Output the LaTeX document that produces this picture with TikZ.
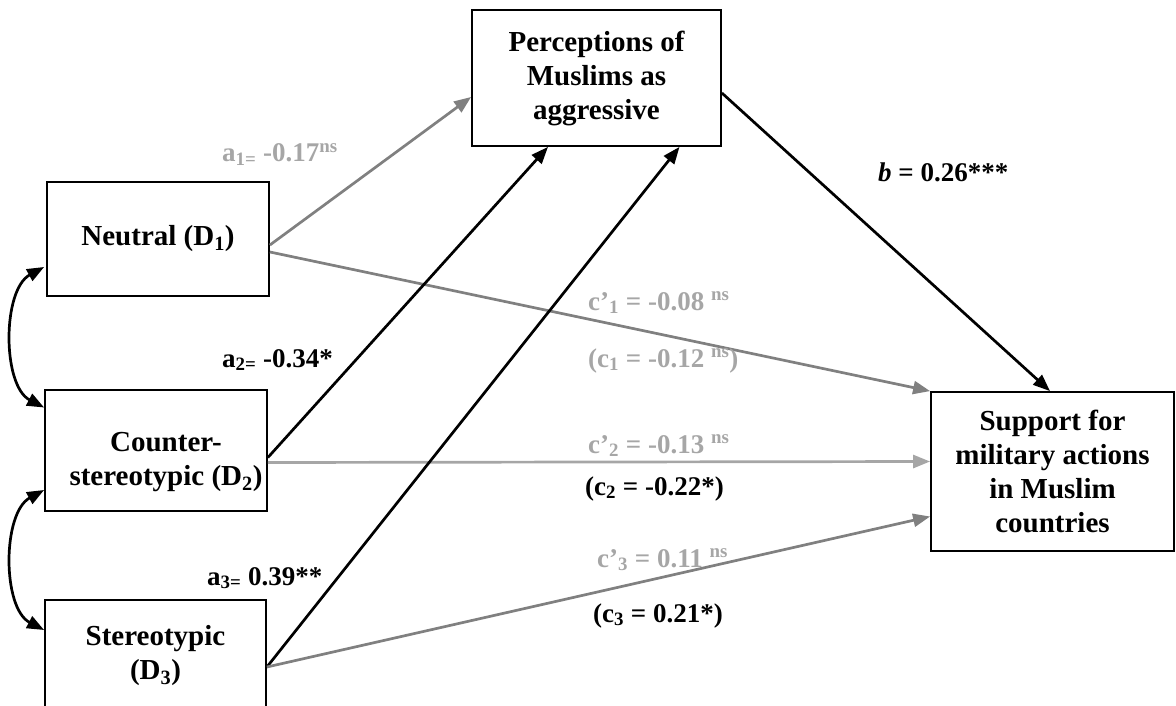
\documentclass[tikz,border=0pt]{standalone}
\usepackage{fontspec}
\setmainfont{Liberation Serif}
\usetikzlibrary{arrows.meta,calc}
\definecolor{lineg}{HTML}{808080}
\definecolor{lineL}{HTML}{A6A6A6}
\definecolor{lblg}{HTML}{A6A6A6}
\begin{document}
\begin{tikzpicture}[x=1pt,y=-1pt,
  box/.style={draw,line width=1.8pt,inner sep=0pt,align=center,font=\bfseries\fontsize{29}{34}\selectfont},
  txt/.style={inner sep=0pt,align=center,font=\bfseries\fontsize{29}{34}\selectfont},
  lbl/.style={anchor=base west,inner sep=0pt,font=\bfseries\fontsize{27}{32}\selectfont},
  arr/.style={line width=2.7pt,-{Triangle[length=17pt,width=13pt]}},
  dbl/.style={line width=2.7pt,{Triangle[length=17pt,width=13pt]}-{Triangle[length=17pt,width=13pt]}}]
\useasboundingbox (0,0) rectangle (1176,706);

\node[box,minimum width=249pt,minimum height=136pt] (pm) at (596.5,78) {Perceptions of\\Muslims as\\aggressive};
\node[box,minimum width=222pt,minimum height=114pt] (ne) at (158,239) {Neutral (D\textsubscript{1})};
\node[box,minimum width=222pt,minimum height=121pt] (cs) at (156,450.5) {};
\node[txt] (cst) at (166,462) {Counter-\\stereotypic (D\textsubscript{2})};
\node[box,minimum width=221pt,minimum height=112pt] (st) at (155.5,656) {Stereotypic\\(D\textsubscript{3})};
\node[box,minimum width=243pt,minimum height=159pt] (su) at (1052.5,471.5) {Support for\\military actions\\in Muslim\\countries};

\draw[arr,lineg] ($(ne.east)+(0,6)$) -- ($(pm.west)+(0,19)$);
\draw[arr,lineg] ($(ne.east)+(0,13)$) -- (su.north west);
\draw[arr,black] ($(cs.east)+(0,7)$) -- ($(pm.south)+(-48.5,0)$);
\draw[arr,lineL] ($(cs.east)+(0,12)$) -- ($(su.west)+(0,-10)$);
\draw[arr,black] ($(st.east)+(0,11)$) -- ($(pm.south)+(83,0)$);
\draw[arr,lineg] ($(st.east)+(0,11)$) -- ($(su.west)+(0,45)$);
\draw[arr,black] ($(pm.east)+(0,15)$) -- ($(su.north)+(-2.5,0)$);

\draw[dbl] ($(ne.west)+(-2,28)$) .. controls +(-42,23) and +(-42,-22) .. ($(cs.west)+(0,-43)$);
\draw[dbl] ($(cs.west)+(0,39.5)$) .. controls +(-42,23) and +(-42,-22) .. ($(st.west)+(0,-26)$);

\node[lbl,text=lblg] (la1) at (222,162) {a\textsubscript{1=} -0.17\textsuperscript{ns}};
\node[lbl] (la2) at (222,367) {a\textsubscript{2=} -0.34*};
\node[lbl] (la3) at (207,585) {a\textsubscript{3=} 0.39**};
\node[lbl] (lb) at (878,182) {\textit{b} = 0.26***};
\node[lbl,text=lblg] (lc1p) at (588,310) {c’\textsubscript{1} = -0.08 \textsuperscript{ns}};
\node[lbl,text=lblg] (lc1) at (588,367) {(c\textsubscript{1} = -0.12 \textsuperscript{ns})};
\node[lbl,text=lblg] (lc2p) at (588,453) {c’\textsubscript{2} = -0.13 \textsuperscript{ns}};
\node[lbl] (lc2) at (585,495) {(c\textsubscript{2} = -0.22*)};
\node[lbl,text=lblg] (lc3p) at (597,567) {c’\textsubscript{3} = 0.11 \textsuperscript{ns}};
\node[lbl] (lc3) at (593,622) {(c\textsubscript{3} = 0.21*)};
\end{tikzpicture}
\end{document}
